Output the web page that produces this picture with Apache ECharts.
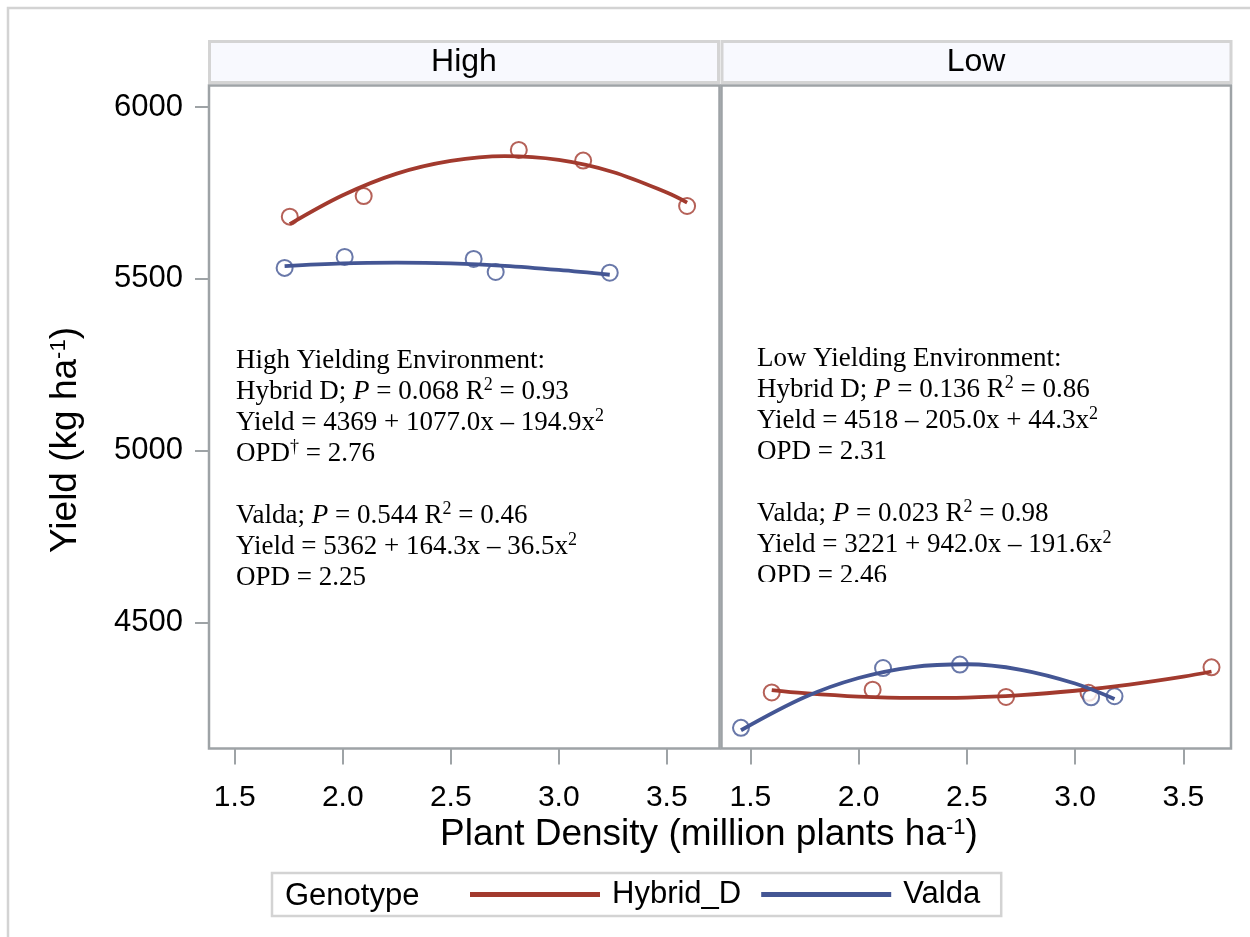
<!DOCTYPE html>
<html>
<head>
<meta charset="utf-8">
<script src="https://cdn.jsdelivr.net/npm/echarts@6/dist/echarts.min.js"></script>
<style>
  html, body { margin: 0; padding: 0; background: #ffffff; }
  #chart { width: 1250px; height: 937px; }
</style>
</head>
<body>
<div id="chart"></div>
<script>
// Panels (yield environments) and genotypes
const panels = ['High', 'Low'];
const genotypes = ['Hybrid_D', 'Valda'];
const genotypeColors = ['#A23A2E', '#445694'];

// Axis ticks
const xTicks = [1.5, 2.0, 2.5, 3.0, 3.5];
const yTicks = [4500, 5000, 5500, 6000];

// Observed means: plant density (million plants/ha) and yield (kg/ha)
const highHybridX = [1.755, 2.097, 2.815, 3.113, 3.594];
const highHybridY = [5681, 5741, 5875, 5844, 5712];
const highValdaX = [1.731, 2.009, 2.606, 2.708, 3.236];
const highValdaY = [5532, 5564, 5558, 5520, 5518];
const lowHybridX = [1.599, 2.065, 2.681, 3.062, 3.630];
const lowHybridY = [4297, 4305, 4284, 4296, 4370];
const lowValdaX = [1.457, 2.113, 2.468, 3.074, 3.182];
const lowValdaY = [4194, 4368, 4378, 4283, 4286];

// Quadratic response curves, sampled along each fitted line
const highHybridFitX = [1.755, 2.0, 2.25, 2.5, 2.75, 3.0, 3.25, 3.5, 3.594];
const highHybridFitY = [5659, 5743, 5806, 5843, 5857, 5846, 5811, 5751, 5722];
const highValdaFitX = [1.731, 2.0, 2.25, 2.5, 2.75, 3.0, 3.236];
const highValdaFitY = [5537, 5545, 5547, 5545, 5538, 5526, 5512];
const lowHybridFitX = [1.599, 1.75, 2.0, 2.25, 2.5, 2.75, 3.0, 3.25, 3.5, 3.63];
const lowHybridFitY = [4304, 4295, 4285, 4281, 4282, 4289, 4302, 4320, 4343, 4358];
const lowValdaFitX = [1.457, 1.75, 2.0, 2.25, 2.5, 2.75, 3.0, 3.182];
const lowValdaFitY = [4187, 4283, 4339, 4371, 4379, 4363, 4323, 4278];

// Regression summaries written inside each panel
const highNotes = [
  'High Yielding Environment:',
  'Hybrid D; {it|P} = 0.068 R{sup|2} = 0.93',
  'Yield = 4369 + 1077.0x \u2013 194.9x{sup|2}',
  'OPD{sup|\u2020} = 2.76',
  ' ',
  'Valda; {it|P} = 0.544 R{sup|2} = 0.46',
  'Yield = 5362 + 164.3x \u2013 36.5x{sup|2}',
  'OPD = 2.25'
];
const lowNotes = [
  'Low Yielding Environment:',
  'Hybrid D; {it|P} = 0.136 R{sup|2} = 0.86',
  'Yield = 4518 \u2013 205.0x + 44.3x{sup|2}',
  'OPD = 2.31',
  ' ',
  'Valda; {it|P} = 0.023 R{sup|2} = 0.98',
  'Yield = 3221 + 942.0x \u2013 191.6x{sup|2}',
  'OPD = 2.46'
];

const xTitle = 'Plant Density (million plants ha{sup|-1})';
const yTitle = 'Yield (kg ha{sup|-1})';

const FRAME = '#9ea3a6';
const SANS = 'Liberation Sans, Arial, sans-serif';
const SERIF = 'Liberation Serif, Times New Roman, serif';
const NOTE_SIZE = 27;

const zip = (xs, ys) => xs.map((x, i) => [x, ys[i]]);

const obs = [
  [zip(highHybridX, highHybridY), zip(highValdaX, highValdaY)],
  [zip(lowHybridX, lowHybridY), zip(lowValdaX, lowValdaY)]
];
const fits = [
  [zip(highHybridFitX, highHybridFitY), zip(highValdaFitX, highValdaFitY)],
  [zip(lowHybridFitX, lowHybridFitY), zip(lowValdaFitX, lowValdaFitY)]
];

const grids = [
  { left: 209, top: 85.5, width: 510.5, height: 663 },
  { left: 721.5, top: 85.5, width: 509.5, height: 663 }
];
const xRanges = [[1.381, 3.744], [1.367, 3.72]];

const series = [];
// fitted curves first, so the legend takes its line icons from them
panels.forEach((p, pi) => {
  genotypes.forEach((g, gi) => {
    series.push({
      name: g, type: 'line', xAxisIndex: pi, yAxisIndex: pi,
      data: fits[pi][gi], smooth: 0.35, showSymbol: false, z: 4,
      itemStyle: { color: genotypeColors[gi] },
      lineStyle: { color: genotypeColors[gi], width: 3.8 },
      silent: true
    });
  });
});
panels.forEach((p, pi) => {
  genotypes.forEach((g, gi) => {
    series.push({
      name: g, type: 'scatter', xAxisIndex: pi, yAxisIndex: pi,
      data: obs[pi][gi], symbol: 'emptyCircle', symbolSize: 16, z: 3,
      itemStyle: { color: genotypeColors[gi], borderColor: genotypeColors[gi], borderWidth: 3 },
      silent: true
    });
  });
});

const richMain = {
  it: { fontFamily: SERIF, fontSize: NOTE_SIZE, fontStyle: 'italic', lineHeight: 31, fill: '#000' },
  sup: { fontFamily: SERIF, fontSize: 18, verticalAlign: 'top', lineHeight: 20, fill: '#000' }
};
const richTitle = {
  sup: { fontFamily: SANS, fontSize: 22, verticalAlign: 'top', lineHeight: 15, fill: '#000' }
};

function noteText(lines, x, y) {
  return {
    type: 'text', x: x, y: y, z: 10,
    style: {
      text: lines.join('\n'), rich: richMain,
      fontFamily: SERIF, fontSize: NOTE_SIZE, lineHeight: 31, fill: '#000',
      textAlign: 'left', textVerticalAlign: 'top'
    }
  };
}

const graphic = [
  // outer border of the figure
  { type: 'rect', z: 0, shape: { x: 8, y: 8, width: 1260, height: 960 },
    style: { fill: 'none', stroke: '#d3d3d3', lineWidth: 2.5 } },
  // panel header strips
  { type: 'rect', z: 1, shape: { x: 209.5, y: 41.5, width: 509, height: 41 },
    style: { fill: '#f8f9fe', stroke: '#d4d4d4', lineWidth: 3 } },
  { type: 'rect', z: 1, shape: { x: 722, y: 41.5, width: 509, height: 41 },
    style: { fill: '#f8f9fe', stroke: '#d4d4d4', lineWidth: 3 } },
  { type: 'text', z: 2, x: 464, y: 62, style: { text: panels[0], fontFamily: SANS, fontSize: 32, fill: '#000', textAlign: 'center', textVerticalAlign: 'middle' } },
  { type: 'text', z: 2, x: 976, y: 62, style: { text: panels[1], fontFamily: SANS, fontSize: 32, fill: '#000', textAlign: 'center', textVerticalAlign: 'middle' } },
  // regression notes
  noteText(highNotes, 236, 345),
  noteText(lowNotes, 757, 343),
  // the last note line of the Low panel is cut off at the text box edge
  { type: 'rect', z: 11, shape: { x: 750, y: 582, width: 220, height: 14 }, style: { fill: '#ffffff' } },
  // axis titles
  { type: 'text', z: 10, x: 709, y: 835,
    style: { text: xTitle, rich: richTitle, fontFamily: SANS, fontSize: 37, lineHeight: 37, fill: '#000', textAlign: 'center', textVerticalAlign: 'middle' } },
  { type: 'text', z: 10, x: 66, y: 440, rotation: Math.PI / 2,
    style: { text: yTitle, rich: richTitle, fontFamily: SANS, fontSize: 37, lineHeight: 37, fill: '#000', textAlign: 'center', textVerticalAlign: 'middle' } },
  // legend title
  { type: 'text', z: 10, x: 285, y: 896,
    style: { text: 'Genotype', fontFamily: SANS, fontSize: 31, fill: '#000', textAlign: 'left', textVerticalAlign: 'middle' } }
];

const option = {
  animation: false,
  backgroundColor: '#ffffff',
  grid: grids.map(g => Object.assign({ show: true, borderColor: FRAME, borderWidth: 2.5, backgroundColor: 'transparent' }, g)),
  xAxis: panels.map((p, i) => ({
    type: 'value', gridIndex: i, min: xRanges[i][0], max: xRanges[i][1],
    axisLine: { show: false },
    splitLine: { show: false },
    axisTick: { show: true, customValues: xTicks, length: 16, lineStyle: { color: FRAME, width: 2 } },
    axisLabel: { show: true, customValues: xTicks, margin: 34, fontFamily: SANS, fontSize: 30, color: '#000',
      formatter: v => Number(v).toFixed(1) }
  })),
  yAxis: panels.map((p, i) => ({
    type: 'value', gridIndex: i, min: 4134, max: 6062.5,
    show: i === 0,
    axisLine: { show: false },
    splitLine: { show: false },
    axisTick: { show: true, customValues: yTicks, length: 14, lineStyle: { color: FRAME, width: 2 } },
    axisLabel: { show: true, customValues: yTicks, margin: 26, fontFamily: SANS, fontSize: 31, color: '#000',
      formatter: v => String(v) }
  })),
  legend: {
    data: genotypes.map(g => ({ name: g, icon: 'rect' })),
    selectedMode: false,
    left: 272, top: 873,
    padding: [6, 21, 6, 198],
    itemWidth: 130, itemHeight: 5, itemGap: 20,
    borderColor: '#d3d3d3', borderWidth: 2.5, backgroundColor: '#ffffff',
    textStyle: { fontFamily: SANS, fontSize: 31, color: '#000', padding: [0, 0, 0, 7] }
  },
  graphic: graphic,
  series: series
};

const chart = echarts.init(document.getElementById('chart'), null, { renderer: 'canvas' });
chart.setOption(option);
</script>
</body>
</html>
